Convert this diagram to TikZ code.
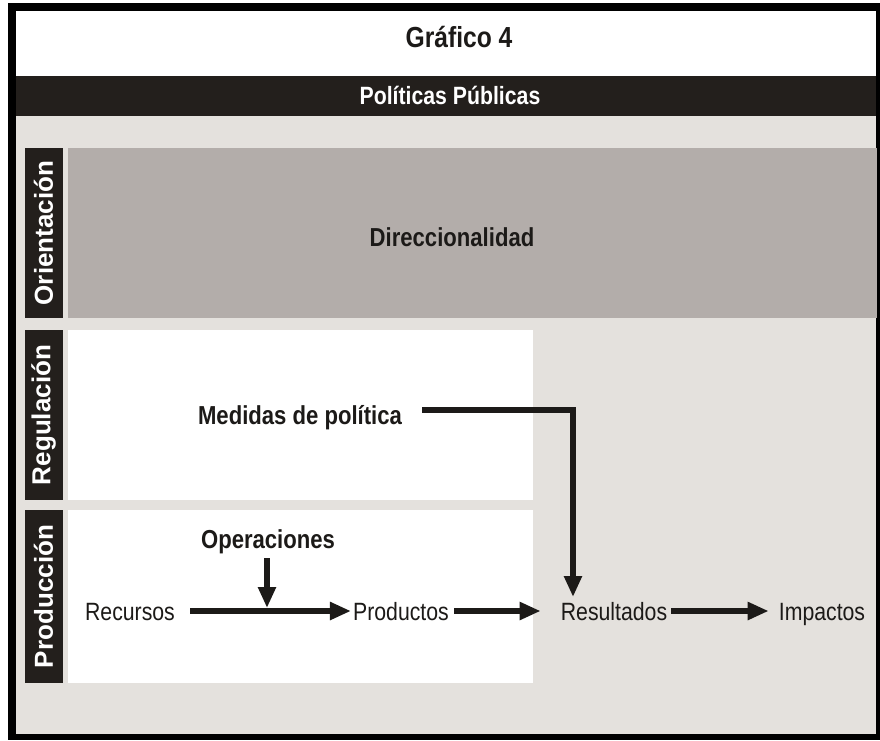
\documentclass[tikz,border=0pt]{standalone}
\usepackage{fontspec}
\setmainfont{Liberation Sans}[FakeStretch=0.85]
\newfontfamily\sidefont{Liberation Sans}
\usetikzlibrary{arrows.meta, positioning, calc}

\definecolor{bggray}{HTML}{E4E1DD}
\definecolor{dirgray}{HTML}{B3ADAA}
\definecolor{bandblack}{HTML}{231F1C}
\definecolor{ink}{HTML}{1C1A18}

\begin{document}
\begin{tikzpicture}[x=1pt, y=-1pt, >={Triangle[length=21pt, width=17pt]},
    flow/.style={->, line width=6pt, draw=ink},
    sidelab/.style={fill=bandblack, text=white, rotate=90, minimum height=38pt, inner sep=0pt,
        font=\sidefont\fontsize{26}{30}\selectfont\bfseries},
    panel/.style={fill=white, anchor=north west, minimum width=465pt, inner sep=0pt},
    txt/.style={text=ink, inner sep=0pt, text height=18pt, text depth=0pt, font=\fontsize{25}{30}\selectfont},
    boldtxt/.style={txt, font=\fontsize{26}{30}\selectfont\bfseries}]
    \useasboundingbox (0,0) rectangle (880,740);

    % Frame and background
    \fill[black] (8,3) rectangle (880,740);
    \fill[bggray] (16,11) rectangle (876,734);
    \fill[white] (16,11) rectangle (876,76);
    \fill[bandblack] (16,76) rectangle (876,116);

    % Title and band
    \node[boldtxt, font=\fontsize{29}{34}\selectfont\bfseries] (title) at (459,38) {Gráfico 4};
    \node[boldtxt, text=white, font=\fontsize{25}{30}\selectfont\bfseries] (band) at (450,95) {Políticas Públicas};

    % Orientation row
    \node[sidelab, minimum width=170pt] (ori) at (43.5,233) {Orientación};
    \node[fill=dirgray, anchor=north west, minimum width=809pt, minimum height=170pt, inner sep=0pt] (dirbox) at (68,148) {};
    \node[boldtxt] (dir) at (452,237) {Direccionalidad};

    % Regulation row
    \node[sidelab, minimum width=170pt] (reg) at (43.5,415) {Regulación};
    \node[panel, minimum height=170pt] (regbox) at (68,330) {};
    \node[boldtxt] (med) at (300,415) {Medidas de política};

    % Production row
    \node[sidelab, minimum width=173pt] (prodlab) at (43.5,596.5) {Producción};
    \node[panel, minimum height=173pt] (prodbox) at (68,510) {};
    \node[boldtxt] (ope) at (268,539) {Operaciones};

    % Chain of results
    \node[txt] (rec) at (130,611) {Recursos};
    \node[txt] (prod) at (401,611) {Productos};
    \node[txt] (res) at (614,611) {Resultados};
    \node[txt] (imp) at (822,611) {Impactos};

    % Arrows along the chain
    \draw[flow] ([xshift=15pt]rec.east) -- ([xshift=-2pt]prod.west);
    \draw[flow] ([xshift=5pt]prod.east) -- ([xshift=-20pt]res.west);
    \draw[flow] ([xshift=4pt]res.east) -- ([xshift=-10pt]imp.west);

    % Operations into the first arrow
    \coordinate (opein) at (267,608);
    \draw[flow] ([yshift=-10pt]ope.south -| opein) -- (opein);

    % Policy measures down to results
    \coordinate (medin) at (573,597);
    \draw[flow] ([xshift=20pt,yshift=5pt]med.east) -| (medin);
\end{tikzpicture}
\end{document}
